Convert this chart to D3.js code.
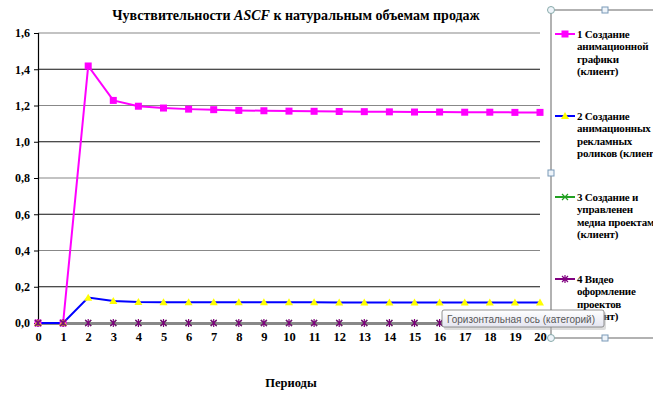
<!DOCTYPE html>
<html><head><meta charset="utf-8">
<script src="https://cdn.jsdelivr.net/npm/d3@7"></script>
<style>body{margin:0;background:#fff}svg{display:block}</style>
</head><body>
<script>
const periods = d3.range(0, 21);
const yTicks = [0, 0.2, 0.4, 0.6, 0.8, 1.0, 1.2, 1.4, 1.6];
const s1 = [0, 0, 1.418, 1.228, 1.196, 1.186, 1.180, 1.177, 1.173, 1.171, 1.169, 1.168, 1.167, 1.166, 1.165, 1.164, 1.164, 1.163, 1.163, 1.162, 1.162];
const s2 = [0, 0, 0.140, 0.121, 0.116, 0.115, 0.115, 0.115, 0.115, 0.115, 0.115, 0.114, 0.113, 0.113, 0.113, 0.113, 0.113, 0.113, 0.113, 0.113, 0.113];
const s3 = [0,0,0,0,0,0,0,0,0,0,0,0,0,0,0,0,0,0,0,0,0];
const s4 = [0,0,0,0,0,0,0,0,0,0,0,0,0,0,0,0,0,0,0,0,0];
const legendNames = [
  ["1 Создание", "анимационной", "графики", "(клиент)"],
  ["2 Создание", "анимационных", "рекламных", "роликов (клиент)"],
  ["3 Создание и", "управленен", "медиа проектами", "(клиент)"],
  ["4 Видео", "оформление", "проектов", "(клиент)"]
];
const series = [
  {v: s1, color: "#ff00ff", marker: "square", mcolor: "#ff00ff"},
  {v: s2, color: "#0000ff", marker: "triangle", mcolor: "#ffff00"},
  {v: s3, color: "#22a022", marker: "x", mcolor: "#22a022"},
  {v: s4, color: "#800080", marker: "star", mcolor: "#800080"}
];

const W = 653, H = 393;
const svg = d3.select("body").append("svg").attr("width", W).attr("height", H);
const serif = "'Liberation Serif','Times New Roman',serif";

const x = d3.scalePoint().domain(periods).range([38, 540]);
const y = d3.scaleLinear().domain([0, 1.6]).range([323, 33]);

// gridlines
svg.append("g").selectAll("line").data(yTicks.filter(d => d > 0)).join("line")
  .attr("x1", 38).attr("x2", 540).attr("y1", d => y(d)).attr("y2", d => y(d))
  .attr("stroke", (d, i) => i % 2 === 0 ? "#111" : "#888").attr("stroke-width", 1.2);

// y axis
const yAxis = d3.axisLeft(y).tickValues(yTicks).tickSize(4).tickPadding(4)
  .tickFormat(d => d3.format(".1f")(d).replace(".", ","));
const gy = svg.append("g").attr("transform", "translate(38,0)").call(yAxis);
gy.select(".domain").attr("stroke", "#000").attr("stroke-width", 1.2);
gy.selectAll(".tick line").attr("stroke", "#000");
gy.selectAll("text").attr("font-family", serif).attr("font-weight", "bold").attr("font-size", 12).attr("fill", "#000");

// lines
const line = v => d3.line().x((d, i) => x(periods[i])).y(d => y(d))(v);
[3, 2].forEach(k => {
  svg.append("path").attr("d", line(series[k].v)).attr("fill", "none")
    .attr("stroke", series[k].color).attr("stroke-width", 2);
});
// x axis baseline
const xAxis = d3.axisBottom(x).tickSize(0).tickPadding(9);
const gx = svg.append("g").attr("transform", "translate(0,323)").call(xAxis);
gx.select(".domain").attr("stroke", "#888").attr("stroke-width", 3);
gx.selectAll("text").attr("font-family", serif).attr("font-weight", "bold").attr("font-size", 12.5).attr("fill", "#000");

[0, 1].forEach(k => {
  svg.append("path").attr("d", line(series[k].v)).attr("fill", "none")
    .attr("stroke", series[k].color).attr("stroke-width", 2);
});

function drawMarker(g, type, cx, cy, col) {
  if (type === "square") {
    g.append("rect").attr("x", cx - 3.5).attr("y", cy - 3.5).attr("width", 7).attr("height", 7).attr("fill", col);
  } else if (type === "triangle") {
    g.append("path").attr("d", `M${cx},${cy-4}L${cx+4},${cy+3}L${cx-4},${cy+3}Z`).attr("fill", col);
  } else if (type === "x") {
    g.append("path").attr("d", `M${cx-3},${cy-3}L${cx+3},${cy+3}M${cx-3},${cy+3}L${cx+3},${cy-3}`).attr("stroke", col).attr("stroke-width", 1.2);
  } else {
    g.append("path").attr("d", `M${cx-3},${cy-3}L${cx+3},${cy+3}M${cx-3},${cy+3}L${cx+3},${cy-3}M${cx},${cy-4}L${cx},${cy+4}`).attr("stroke", col).attr("stroke-width", 1.2);
  }
}
series.forEach(s => {
  const g = svg.append("g");
  s.v.forEach((d, i) => drawMarker(g, s.marker, x(periods[i]), y(d), s.mcolor));
});

// title
const t = svg.append("text").attr("x", 296).attr("y", 20).attr("text-anchor", "middle")
  .attr("font-family", serif).attr("font-weight", "bold").attr("font-size", 14).attr("fill", "#000");
t.append("tspan").text("Чувствительности ");
t.append("tspan").attr("font-style", "italic").text("ASCF");
t.append("tspan").text(" к натуральным объемам продаж");

// x axis title
svg.append("text").attr("x", 291).attr("y", 387).attr("text-anchor", "middle")
  .attr("font-family", serif).attr("font-weight", "bold").attr("font-size", 12.5).text("Периоды");

// legend frame (selection)
const fr = svg.append("g");
fr.append("line").attr("x1", 551).attr("x2", 551).attr("y1", 10).attr("y2", 338).attr("stroke", "#999").attr("stroke-width", 1.5);
fr.append("line").attr("x1", 551).attr("x2", 653).attr("y1", 10).attr("y2", 10).attr("stroke", "#999").attr("stroke-width", 1.5);
fr.append("line").attr("x1", 551).attr("x2", 653).attr("y1", 338).attr("y2", 338).attr("stroke", "#999").attr("stroke-width", 1.5);
[[551, 10], [551, 338]].forEach(p => fr.append("circle").attr("cx", p[0]).attr("cy", p[1]).attr("r", 3.5).attr("fill", "#eef4fa").attr("stroke", "#8aa").attr("stroke-width", 1));
[[605, 10], [551, 173], [605, 338]].forEach(p => fr.append("rect").attr("x", p[0] - 3).attr("y", p[1] - 3).attr("width", 6).attr("height", 6).attr("fill", "#eef4fa").attr("stroke", "#7a9ab8").attr("stroke-width", 1));

// legend
const legTops = [34, 116, 197, 279];
series.forEach((s, k) => {
  const g = svg.append("g");
  const ly = legTops[k];
  g.append("line").attr("x1", 555).attr("x2", 575).attr("y1", ly).attr("y2", ly).attr("stroke", s.color).attr("stroke-width", 2);
  drawMarker(g, s.marker, 565, ly, s.mcolor);
  legendNames[k].forEach((txt, j) => {
    g.append("text").attr("x", 577).attr("y", ly + 4 + j * 12.3)
      .attr("font-family", serif).attr("font-weight", "bold").attr("font-size", 11).attr("letter-spacing", -0.2).attr("fill", "#000").text(txt);
  });
});

// tooltip
const defs = svg.append("defs");
const grad = defs.append("linearGradient").attr("id", "tg").attr("x1", 0).attr("x2", 0).attr("y1", 0).attr("y2", 1);
grad.append("stop").attr("offset", 0).attr("stop-color", "#ffffff");
grad.append("stop").attr("offset", 1).attr("stop-color", "#e4e5f0");
const tt = svg.append("g");
tt.append("rect").attr("x", 444).attr("y", 312).attr("width", 162).attr("height", 18).attr("rx", 2).attr("fill", "#bbb").attr("opacity", 0.5);
tt.append("rect").attr("x", 442).attr("y", 310).attr("width", 162).attr("height", 17).attr("rx", 2).attr("fill", "url(#tg)").attr("stroke", "#767676").attr("stroke-width", 0.8);
tt.append("text").attr("x", 447).attr("y", 322.5).attr("font-family", "'Liberation Sans','Open Sans',sans-serif").attr("font-size", 11)
  .attr("textLength", 148).attr("lengthAdjust", "spacingAndGlyphs").attr("fill", "#575757").text("Горизонтальная ось (категорий)");
</script>
</body></html>
